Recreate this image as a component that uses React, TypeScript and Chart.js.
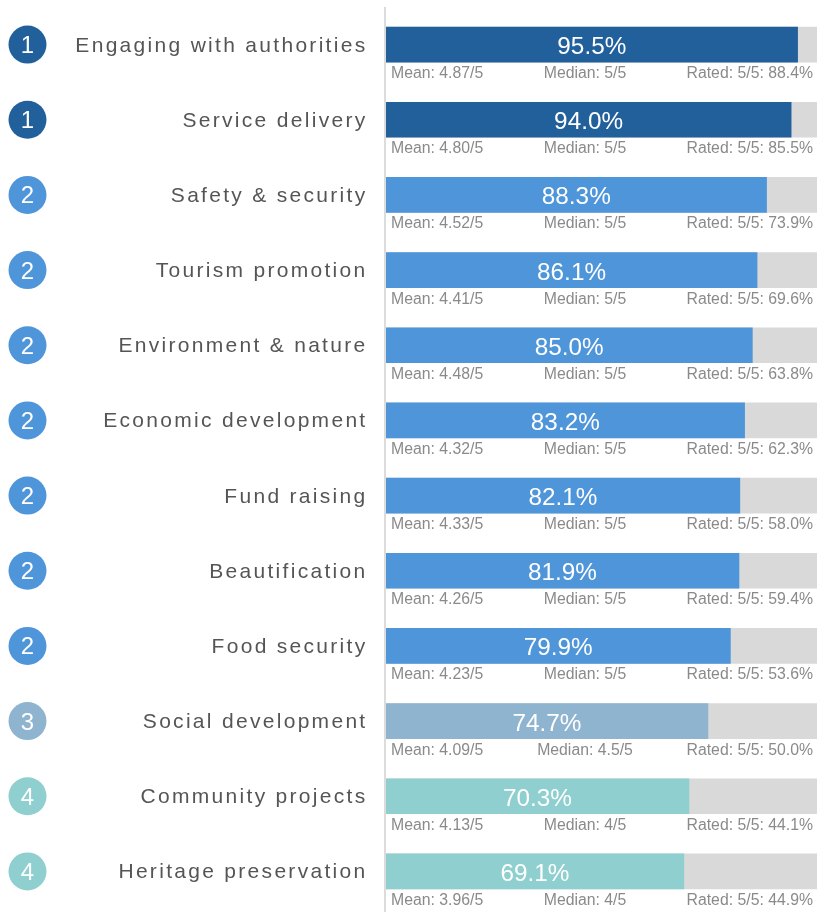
import React, { useEffect, useRef } from "react";
import { Chart, registerables } from "chart.js";

Chart.register(...registerables);

const categories = [
  "Engaging with authorities",
  "Service delivery",
  "Safety & security",
  "Tourism promotion",
  "Environment & nature",
  "Economic development",
  "Fund raising",
  "Beautification",
  "Food security",
  "Social development",
  "Community projects",
  "Heritage preservation",
];
const ranks = [1, 1, 2, 2, 2, 2, 2, 2, 2, 3, 4, 4];
const percentValues = [95.5, 94.0, 88.3, 86.1, 85.0, 83.2, 82.1, 81.9, 79.9, 74.7, 70.3, 69.1];
const meanLabels = ["4.87", "4.80", "4.52", "4.41", "4.48", "4.32", "4.33", "4.26", "4.23", "4.09", "4.13", "3.96"];
const medianLabels = ["5", "5", "5", "5", "5", "5", "5", "5", "5", "4.5", "4", "4"];
const rated5Labels = ["88.4", "85.5", "73.9", "69.6", "63.8", "62.3", "58.0", "59.4", "53.6", "50.0", "44.1", "44.9"];
const trackValues = [100, 100, 100, 100, 100, 100, 100, 100, 100, 100, 100, 100];

const rankColors: Record<number, string> = {
  1: "#22609c",
  2: "#4f95da",
  3: "#8fb4cf",
  4: "#8fcfcf",
};

const FONT = '"Liberation Sans", Arial, Helvetica, sans-serif';

const overlayPlugin = {
  id: "overlay",
  afterDatasetsDraw(chart: any) {
    const ctx = chart.ctx;
    const meta = chart.getDatasetMeta(0);
    const area = chart.chartArea;
    ctx.save();
    // vertical axis line
    ctx.strokeStyle = "#dcdcdc";
    ctx.lineWidth = 2;
    ctx.beginPath();
    ctx.moveTo(area.left - 1, 7);
    ctx.lineTo(area.left - 1, chart.height);
    ctx.stroke();

    ctx.textBaseline = "alphabetic";
    meta.data.forEach((bar: any, i: number) => {
      const y = bar.y;
      const h = bar.height;
      // rank circle
      ctx.fillStyle = rankColors[ranks[i]];
      ctx.beginPath();
      ctx.arc(27.5, y, 19, 0, Math.PI * 2);
      ctx.fill();
      ctx.fillStyle = "#ffffff";
      ctx.font = `24px ${FONT}`;
      ctx.textAlign = "center";
      (ctx as any).letterSpacing = "0px";
      ctx.fillText(String(ranks[i]), 27.5, y + 8.5);

      // category label
      ctx.fillStyle = "#555555";
      ctx.font = `21px ${FONT}`;
      (ctx as any).letterSpacing = "2.3px";
      ctx.textAlign = "right";
      ctx.fillText(categories[i], 367.5, y + 7);
      (ctx as any).letterSpacing = "0px";

      // value label
      ctx.fillStyle = "#ffffff";
      ctx.font = `24.3px ${FONT}`;
      ctx.textAlign = "center";
      ctx.fillText(percentValues[i].toFixed(1) + "%", (bar.base + bar.x) / 2, y + 9.5);

      // stats
      const sy = y + h / 2 + 16;
      ctx.fillStyle = "#8a8a8a";
      ctx.font = `15.8px ${FONT}`;
      ctx.textAlign = "left";
      ctx.fillText(`Mean: ${meanLabels[i]}/5`, area.left + 5, sy);
      ctx.textAlign = "center";
      ctx.fillText(`Median: ${medianLabels[i]}/5`, 585, sy);
      ctx.textAlign = "right";
      ctx.fillText(`Rated: 5/5: ${rated5Labels[i]}%`, area.right - 4, sy);
    });
    ctx.restore();
  },
};

export default function App() {
  const canvasRef = useRef<HTMLCanvasElement | null>(null);

  useEffect(() => {
    if (!canvasRef.current) return;
    const chart = new Chart(canvasRef.current, {
      type: "bar",
      data: {
        labels: categories,
        datasets: [
          {
            data: percentValues,
            backgroundColor: ranks.map((r) => rankColors[r]),
            barThickness: 35,
            grouped: false,
            borderWidth: 0,
          },
          {
            data: trackValues,
            backgroundColor: "#d9d9d9",
            barThickness: 35,
            grouped: false,
            borderWidth: 0,
          },
        ],
      },
      options: {
        indexAxis: "y",
        animation: false,
        responsive: false,
        maintainAspectRatio: false,
        layout: { padding: { left: 386, right: 1, top: 7, bottom: 3 } },
        plugins: {
          legend: { display: false },
          tooltip: { enabled: false },
        },
        scales: {
          x: { display: false, min: 0, max: 100 },
          y: { display: false },
        },
      },
      plugins: [overlayPlugin],
    });
    return () => chart.destroy();
  }, []);

  return (
    <div style={{ position: "absolute", left: 0, top: 0, width: 818, height: 912, background: "#fff" }}>
      <canvas ref={canvasRef} width={818} height={912} style={{ width: 818, height: 912, display: "block" }} />
    </div>
  );
}
